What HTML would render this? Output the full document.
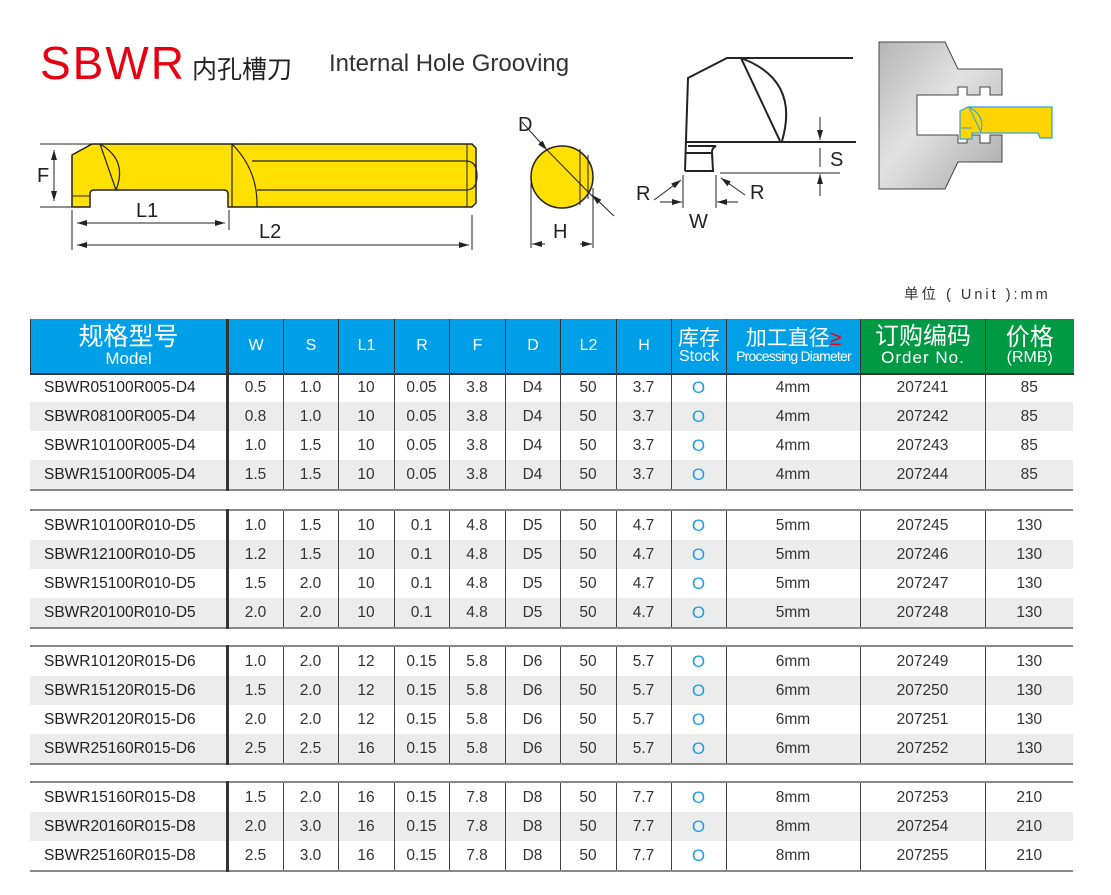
<!DOCTYPE html>
<html><head><meta charset="utf-8">
<style>
body{margin:0;width:1111px;height:895px;background:#fff;position:relative;overflow:hidden;font-family:"Liberation Sans","Noto Sans CJK SC",sans-serif;}
.abs{position:absolute;white-space:nowrap;}
table{position:absolute;left:30px;border-collapse:collapse;table-layout:fixed;width:1043px;}
td{height:29px;padding:0;text-align:center;font-size:15.5px;color:#333;border-left:1.5px solid #444;}
td:first-child{text-align:left;padding-left:14px;border-left:none;color:#222;}
td:nth-child(2){border-left:3px solid #333;}
tr:nth-child(even) td{background:#ececec;}
.g{border-top:2px solid #888;border-bottom:2px solid #888;}
.o{color:#1a9ee0;font-size:17px;}
.h td{height:54px;color:#fff;background:#00a0e9;font-size:16px;border-left:1.5px solid #333;line-height:1;}
.h td:first-child{text-align:center;padding:0;}
.h td.gr{background:#009944;}
.h td:nth-child(2){border-left:3px solid #333;}
</style></head><body>
<div class="abs" style="left:40px;top:36px;font-size:46px;color:#e60012;letter-spacing:2px;">SBWR</div>
<div class="abs" style="left:192px;top:50px;font-size:25px;color:#222;">内孔槽刀</div>
<div class="abs" style="left:329px;top:50px;font-size:24px;color:#333;">Internal Hole Grooving</div>

<svg class="abs" style="left:0;top:0" width="1111" height="300">
<defs><marker id="a" markerWidth="10" markerHeight="6" refX="10" refY="3" orient="auto"><path d="M0,0 L10,3 L0,6z" fill="#222"/></marker></defs>
<!-- tool -->
<path d="M72,155 L92,144 L472,144 L476,148 L476,203 L472,207 L232,207 L228,207 L228,194 Q228,190 224,190 L94,190 Q90,190 90,194 L90,207 L72,207 Z" fill="#ffe000" stroke="#222" stroke-width="1.5"/>
<path d="M100,144 L116,190 M100,144 Q128,160 116,190" fill="none" stroke="#222" stroke-width="1.2"/>
<path d="M232,144 L232,207 M232,144 Q258,170 257,207" fill="none" stroke="#222" stroke-width="1.2"/>
<path d="M252,161 L466,161 Q477,161 477,176 Q477,190 466,190 L257,190" fill="none" stroke="#222" stroke-width="1.2"/>
<path d="M467,144 L467,207" stroke="#222" stroke-width="1"/>
<path d="M72,196 L90,196" stroke="#222"/>
<path d="M40,144 L92,144 M40,207 L72,207" stroke="#222" stroke-width="1"/>
<path d="M54,150 L54,201" stroke="#222" marker-end="url(#a)"/><path d="M54,201 L54,150" stroke="#222" marker-end="url(#a)"/>
<path d="M72,210 L72,250 M229,210 L229,230 M472,215 L472,250" stroke="#222"/>
<path d="M77,223 L225,223" stroke="#222" marker-end="url(#a)"/><path d="M225,223 L77,223" stroke="#222" marker-end="url(#a)"/>
<path d="M77,245 L469,245" stroke="#222" marker-end="url(#a)"/><path d="M469,245 L77,245" stroke="#222" marker-end="url(#a)"/>
<text x="37" y="182" font-size="20" fill="#222" font-family="Liberation Sans">F</text>
<text x="136" y="217" font-size="20" fill="#222" font-family="Liberation Sans">L1</text>
<text x="259" y="238" font-size="20" fill="#222" font-family="Liberation Sans">L2</text>
<!-- circle -->
<circle cx="562" cy="177" r="31" fill="#ffe000" stroke="#222" stroke-width="1.5"/>
<path d="M580,149 L580,205 M588,155 L588,199" stroke="#222" stroke-width="1"/>
<path d="M522,122 L547,150" stroke="#222" marker-end="url(#a)"/><path d="M547,150 L596,200"  stroke="#222"/><path d="M614,216 L592,195" stroke="#222" marker-end="url(#a)"/>
<path d="M531,183 L531,248 M593,188 L593,248" stroke="#222"/>
<path d="M545,244 L532,244" stroke="#222" marker-end="url(#a)"/><path d="M580,244 L592,244" stroke="#222" marker-end="url(#a)"/>
<text x="518" y="131" font-size="20" fill="#222" font-family="Liberation Sans">D</text>
<text x="553" y="238" font-size="20" fill="#222" font-family="Liberation Sans">H</text>
<!-- groove detail -->
<g fill="none" stroke="#222" stroke-width="2">
<path d="M853,58 L727,58 L688,78 L685,171"/>
<path d="M741,58 L780,141 M741,58 Q800,80 782,141"/>
<path d="M686,142 L856,142"/>
<path d="M688,146 L716,146 Q712,148 712,152 L713,171 L685,171"/>
<path d="M686,153 L712,153"/>
</g>
<path d="M720,173 L840,173" stroke="#222"/>
<path d="M820,117 L820,140" stroke="#222" marker-end="url(#a)"/><path d="M820,196 L820,174" stroke="#222" marker-end="url(#a)"/><path d="M820,148 L820,167" stroke="#222"/>
<path d="M683,175 L683,208 M716,175 L716,208" stroke="#222"/>
<path d="M654,200 L681,180" stroke="#222" marker-end="url(#a)"/><path d="M745,195 L721,178" stroke="#222" marker-end="url(#a)"/>
<path d="M660,202 L682,202" stroke="#222" marker-end="url(#a)"/><path d="M738,202 L717,202" stroke="#222" marker-end="url(#a)"/>
<text x="636" y="200" font-size="20" fill="#222" font-family="Liberation Sans">R</text>
<text x="750" y="199" font-size="20" fill="#222" font-family="Liberation Sans">R</text>
<text x="830" y="166" font-size="20" fill="#222" font-family="Liberation Sans">S</text>
<text x="689" y="228" font-size="20" fill="#222" font-family="Liberation Sans">W</text>
<!-- holder -->
<defs><linearGradient id="gg" x1="0" y1="0" x2="1" y2="1"><stop offset="0" stop-color="#b5b5b5"/><stop offset=".45" stop-color="#e2e2e2"/><stop offset="1" stop-color="#a8a8a8"/></linearGradient></defs>
<path d="M879,42 L945,42 L958,69 L1002,69 L1002,95 L990,95 L990,87 L980,87 L980,95 L967,95 L967,87 L958,87 L958,95 L917,95 L917,135 L958,135 L958,143 L967,143 L967,135 L980,135 L980,143 L990,143 L990,135 L1002,135 L1002,162 L958,162 L945,189 L879,189 Z" fill="url(#gg)" stroke="#444" stroke-width="1"/>
<path d="M960,111 L968,107 L1052,107 L1052,138 L1040,138 L1038,133 L972,133 L972,139 L960,139 Z" fill="#ffd400" stroke="#29a3e0" stroke-width="1.2"/>
<path d="M969,107 L981,132 M969,107 Q985,115 981,132 M961,128 L972,128" fill="none" stroke="#29a3e0" stroke-width="1"/>
</svg>

<div class="abs" style="left:904px;top:283px;font-size:14.5px;color:#333;letter-spacing:3px;">单位 ( Unit ):mm</div>

<table style="top:319px"><colgroup><col style="width:197px"><col style="width:56px"><col style="width:55px"><col style="width:56px"><col style="width:55px"><col style="width:56px"><col style="width:55px"><col style="width:56px"><col style="width:55px"><col style="width:55px"><col style="width:134px"><col style="width:125px"><col style="width:88px"></colgroup>
<tr class="h"><td><span style="font-size:25px">规格型号</span><br><span style="font-size:17px">Model</span></td><td>W</td><td>S</td><td>L1</td><td>R</td><td>F</td><td>D</td><td>L2</td><td>H</td><td><span style="font-size:21px">库存</span><br><span style="font-size:16px">Stock</span></td><td style="white-space:nowrap"><span style="font-size:21px">加工直径<span style="color:#e60012">≥</span></span><br><span style="font-size:14px;letter-spacing:-0.8px">Processing Diameter</span></td><td class="gr"><span style="font-size:24px">订购编码</span><br><span style="font-size:17px;letter-spacing:1px">Order No.</span></td><td class="gr"><span style="font-size:24px">价格</span><br><span style="font-size:16px">(RMB)</span></td></tr>
<tr><td colspan="13" style="height:0;border:none;border-top:2px solid #333;padding:0"></td></tr>
</table>

<table class="g" style="top:373px;border-top:none"><colgroup><col style="width:197px"><col style="width:56px"><col style="width:55px"><col style="width:56px"><col style="width:55px"><col style="width:56px"><col style="width:55px"><col style="width:56px"><col style="width:55px"><col style="width:55px"><col style="width:134px"><col style="width:125px"><col style="width:88px"></colgroup>
<tr><td>SBWR05100R005-D4</td><td>0.5</td><td>1.0</td><td>10</td><td>0.05</td><td>3.8</td><td>D4</td><td>50</td><td>3.7</td><td class="o">O</td><td>4mm</td><td>207241</td><td>85</td></tr>
<tr><td>SBWR08100R005-D4</td><td>0.8</td><td>1.0</td><td>10</td><td>0.05</td><td>3.8</td><td>D4</td><td>50</td><td>3.7</td><td class="o">O</td><td>4mm</td><td>207242</td><td>85</td></tr>
<tr><td>SBWR10100R005-D4</td><td>1.0</td><td>1.5</td><td>10</td><td>0.05</td><td>3.8</td><td>D4</td><td>50</td><td>3.7</td><td class="o">O</td><td>4mm</td><td>207243</td><td>85</td></tr>
<tr><td>SBWR15100R005-D4</td><td>1.5</td><td>1.5</td><td>10</td><td>0.05</td><td>3.8</td><td>D4</td><td>50</td><td>3.7</td><td class="o">O</td><td>4mm</td><td>207244</td><td>85</td></tr>
</table>

<table class="g" style="top:509px"><colgroup><col style="width:197px"><col style="width:56px"><col style="width:55px"><col style="width:56px"><col style="width:55px"><col style="width:56px"><col style="width:55px"><col style="width:56px"><col style="width:55px"><col style="width:55px"><col style="width:134px"><col style="width:125px"><col style="width:88px"></colgroup>
<tr><td>SBWR10100R010-D5</td><td>1.0</td><td>1.5</td><td>10</td><td>0.1</td><td>4.8</td><td>D5</td><td>50</td><td>4.7</td><td class="o">O</td><td>5mm</td><td>207245</td><td>130</td></tr>
<tr><td>SBWR12100R010-D5</td><td>1.2</td><td>1.5</td><td>10</td><td>0.1</td><td>4.8</td><td>D5</td><td>50</td><td>4.7</td><td class="o">O</td><td>5mm</td><td>207246</td><td>130</td></tr>
<tr><td>SBWR15100R010-D5</td><td>1.5</td><td>2.0</td><td>10</td><td>0.1</td><td>4.8</td><td>D5</td><td>50</td><td>4.7</td><td class="o">O</td><td>5mm</td><td>207247</td><td>130</td></tr>
<tr><td>SBWR20100R010-D5</td><td>2.0</td><td>2.0</td><td>10</td><td>0.1</td><td>4.8</td><td>D5</td><td>50</td><td>4.7</td><td class="o">O</td><td>5mm</td><td>207248</td><td>130</td></tr>
</table>

<table class="g" style="top:645px"><colgroup><col style="width:197px"><col style="width:56px"><col style="width:55px"><col style="width:56px"><col style="width:55px"><col style="width:56px"><col style="width:55px"><col style="width:56px"><col style="width:55px"><col style="width:55px"><col style="width:134px"><col style="width:125px"><col style="width:88px"></colgroup>
<tr><td>SBWR10120R015-D6</td><td>1.0</td><td>2.0</td><td>12</td><td>0.15</td><td>5.8</td><td>D6</td><td>50</td><td>5.7</td><td class="o">O</td><td>6mm</td><td>207249</td><td>130</td></tr>
<tr><td>SBWR15120R015-D6</td><td>1.5</td><td>2.0</td><td>12</td><td>0.15</td><td>5.8</td><td>D6</td><td>50</td><td>5.7</td><td class="o">O</td><td>6mm</td><td>207250</td><td>130</td></tr>
<tr><td>SBWR20120R015-D6</td><td>2.0</td><td>2.0</td><td>12</td><td>0.15</td><td>5.8</td><td>D6</td><td>50</td><td>5.7</td><td class="o">O</td><td>6mm</td><td>207251</td><td>130</td></tr>
<tr><td>SBWR25160R015-D6</td><td>2.5</td><td>2.5</td><td>16</td><td>0.15</td><td>5.8</td><td>D6</td><td>50</td><td>5.7</td><td class="o">O</td><td>6mm</td><td>207252</td><td>130</td></tr>
</table>

<table class="g" style="top:781px"><colgroup><col style="width:197px"><col style="width:56px"><col style="width:55px"><col style="width:56px"><col style="width:55px"><col style="width:56px"><col style="width:55px"><col style="width:56px"><col style="width:55px"><col style="width:55px"><col style="width:134px"><col style="width:125px"><col style="width:88px"></colgroup>
<tr><td>SBWR15160R015-D8</td><td>1.5</td><td>2.0</td><td>16</td><td>0.15</td><td>7.8</td><td>D8</td><td>50</td><td>7.7</td><td class="o">O</td><td>8mm</td><td>207253</td><td>210</td></tr>
<tr><td>SBWR20160R015-D8</td><td>2.0</td><td>3.0</td><td>16</td><td>0.15</td><td>7.8</td><td>D8</td><td>50</td><td>7.7</td><td class="o">O</td><td>8mm</td><td>207254</td><td>210</td></tr>
<tr><td style="background:#fff">SBWR25160R015-D8</td><td style="background:#fff">2.5</td><td style="background:#fff">3.0</td><td style="background:#fff">16</td><td style="background:#fff">0.15</td><td style="background:#fff">7.8</td><td style="background:#fff">D8</td><td style="background:#fff">50</td><td style="background:#fff">7.7</td><td class="o" style="background:#fff">O</td><td style="background:#fff">8mm</td><td style="background:#fff">207255</td><td style="background:#fff">210</td></tr>
</table>
</body></html>
